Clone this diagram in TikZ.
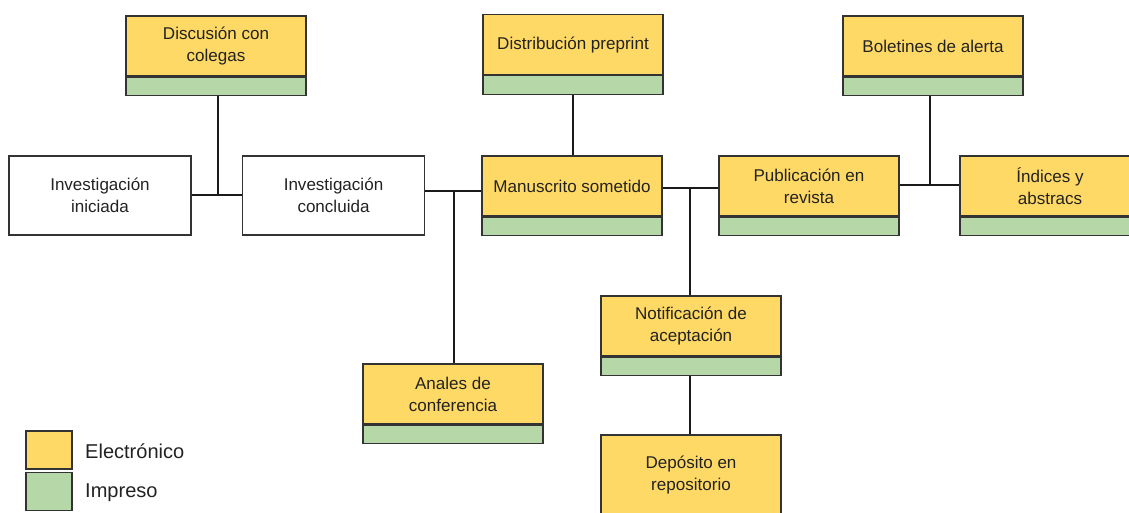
\documentclass[tikz,border=0pt]{standalone}
\usepackage{fontspec}
\setmainfont{Liberation Sans}
\usepackage{tikz}
\usetikzlibrary{positioning,calc}
\definecolor{elecyellow}{HTML}{FFD966}
\definecolor{imprgreen}{HTML}{B6D7A8}
\definecolor{boxline}{HTML}{333333}
\definecolor{linkcol}{HTML}{1A1A1A}
\definecolor{txtcol}{HTML}{222222}

\tikzset{
  elec/.style={draw=boxline, line width=0.7pt, fill=elecyellow, minimum width=3.6cm, minimum height=1.2cm, align=center, inner sep=1pt, text=txtcol, font=\fontsize{9.7}{12.5}\selectfont},
  impr/.style={draw=boxline, line width=0.7pt, fill=imprgreen, minimum width=3.6cm, minimum height=0.37cm, inner sep=0pt},
  blank/.style={draw=boxline, line width=0.7pt, fill=white, minimum width=3.64cm, minimum height=1.58cm, align=center, text=txtcol, font=\fontsize{9.7}{12.5}\selectfont},
  link/.style={draw=linkcol, line width=1.1pt},
  keytext/.style={anchor=west, text=txtcol, font=\fontsize{11.4}{13}\selectfont}
}

\begin{document}
\begin{tikzpicture}[x=0.02cm, y=-0.02cm]
\useasboundingbox (0,0) rectangle (1129,513);

% boxes, top row
\node[elec] (disc) at (216,46) {Discusión con\\colegas};
\node[impr, below=0pt of disc] (discg) {};
\node[elec] (dist) at (573,44.5) {Distribución preprint};
\node[impr, below=0pt of dist] (distg) {};
\node[elec] (bol) at (933,46) {Boletines de alerta};
\node[impr, below=0pt of bol] (bolg) {};

% boxes, main row
\node[blank] (ini) at (100,195.5) {Investigación\\iniciada};
\node[blank] (conc) at (333.5,195.5) {Investigación\\concluida};
\node[elec] (man) at (572,186) {Manuscrito sometido};
\node[impr, below=0pt of man] (mang) {};
\node[elec] (pub) at (809,186) {Publicación en\\revista};
\node[impr, below=0pt of pub] (pubg) {};
\node[elec] (ind) at (1050,186) {Índices y\\abstracs};
\node[impr, below=0pt of ind] (indg) {};

% boxes, lower part
\node[elec] (notif) at (691,326) {Notificación de\\aceptación};
\node[impr, below=0pt of notif] (notifg) {};
\node[elec] (anal) at (453,394) {Anales de\\conferencia};
\node[impr, below=0pt of anal] (analg) {};
\node[elec, minimum height=1.6cm] (dep) at (691,475) {Depósito en\\repositorio};

% junctions
\coordinate (j1) at (218,195);
\coordinate (j2) at (454,191);
\coordinate (j3) at (690,188);
\coordinate (j4) at (930,185);

% connectors
\draw[link] (ini.east |- j1) -- (j1 -| conc.west);
\draw[link] (discg.south -| j1) -- (j1);
\draw[link] (conc.east |- j2) -- (j2 -| man.west);
\draw[link] (j2) -- (anal.north -| j2);
\draw[link] (distg.south) -- (distg.south |- man.north);
\draw[link] (mang.east |- j3) -- (j3 -| pub.west);
\draw[link] (j3) -- (notif.north -| j3);
\draw[link] (notifg.south -| j3) -- (dep.north -| j3);
\draw[link] (pub.east |- j4) -- (j4 -| ind.west);
\draw[link] (bolg.south -| j4) -- (j4);

% legend
\node[draw=boxline, line width=0.7pt, fill=elecyellow, minimum width=0.92cm, minimum height=0.76cm] (kel) at (49,450) {};
\node[draw=boxline, line width=0.7pt, fill=imprgreen, minimum width=0.92cm, minimum height=0.76cm, below=0.04cm of kel] (kim) {};
\node[keytext] (keltxt) at (79,451) {Electrónico};
\node[keytext] (kimtxt) at (79,493) {Impreso};
\end{tikzpicture}
\end{document}
